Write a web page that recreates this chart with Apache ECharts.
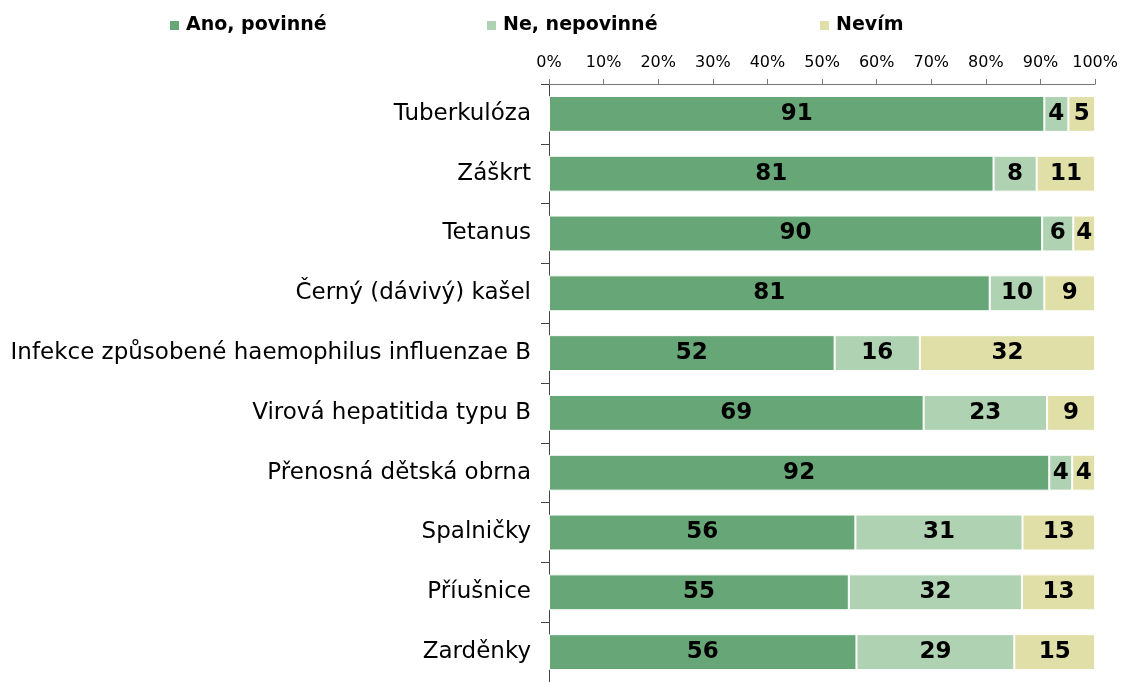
<!DOCTYPE html>
<html>
<head>
<meta charset="utf-8">
<script src="https://cdn.jsdelivr.net/npm/echarts@6/dist/echarts.min.js"></script>
<style>html,body{margin:0;padding:0;background:#fff}#c{width:1121px;height:682px}</style>
</head>
<body>
<div id="c"></div>
<script>
const categories = ["Tuberkulóza","Záškrt","Tetanus","Černý (dávivý) kašel","Infekce způsobené haemophilus influenzae B","Virová hepatitida typu B","Přenosná dětská obrna","Spalničky","Příušnice","Zarděnky"];
const seriesNames = ["Ano, povinné","Ne, nepovinné","Nevím"];
const anoPovinne = [90.7,81.4,90.3,80.7,52.3,68.6,91.6,56.1,54.9,56.3];
const neNepovinne = [4.4,7.9,5.7,10.0,15.6,22.6,4.2,30.6,31.7,28.9];
const nevim = [4.9,10.7,4.0,9.3,32.1,8.8,4.2,13.3,13.4,14.8];
const xTicks = [0,10,20,30,40,50,60,70,80,90,100];

const colors = ["#67A677","#AFD2B2","#E1DFA8"];
const FONT = "DejaVu Sans";
const chart = echarts.init(document.getElementById('c'), null, {renderer:'canvas'});
const values = [anoPovinne, neNepovinne, nevim];
const legendLefts = [163, 480, 813];
chart.setOption({
  animation:false,
  color: colors,
  legend: seriesNames.map((n,i)=>({
    data:[n], left: legendLefts[i], top: 11, itemWidth:11, itemHeight:11, icon:'rect', itemGap:6,
    textStyle:{fontFamily:FONT,fontWeight:'bold',fontSize:19,color:'#000',padding:[0,0,0,1]}
  })),
  grid:{left:549, top:84, width:548, height:604.6, containLabel:false},
  xAxis:{
    type:'value', position:'top', min:0, max:100, interval:10,
    axisLine:{show:true,lineStyle:{color:'#777',width:1}},
    axisTick:{show:true,length:5,lineStyle:{color:'#777'}},
    splitLine:{show:false},
    axisLabel:{fontFamily:FONT,fontSize:16,color:'#000',margin:13,formatter:v=>v+'%'}
  },
  yAxis:{
    type:'category', inverse:true, data:categories,
    axisLine:{show:true,lineStyle:{color:'#444',width:1}},
    axisTick:{show:true,length:8,lineStyle:{color:'#444'}},
    axisLabel:{fontFamily:FONT,fontSize:23,color:'#000',margin:18}
  },
  series: seriesNames.map((n,i)=>({
    name:n, type:'bar', stack:'t', data:values[i], barCategoryGap:'40%',
    itemStyle:{borderColor:'#fff',borderWidth:1},
    label:{show:true,position:'inside',fontFamily:FONT,fontWeight:'bold',fontSize:23,color:'#000',
      formatter:p=>Math.round(p.value)}
  }))
});
</script>
</body>
</html>
